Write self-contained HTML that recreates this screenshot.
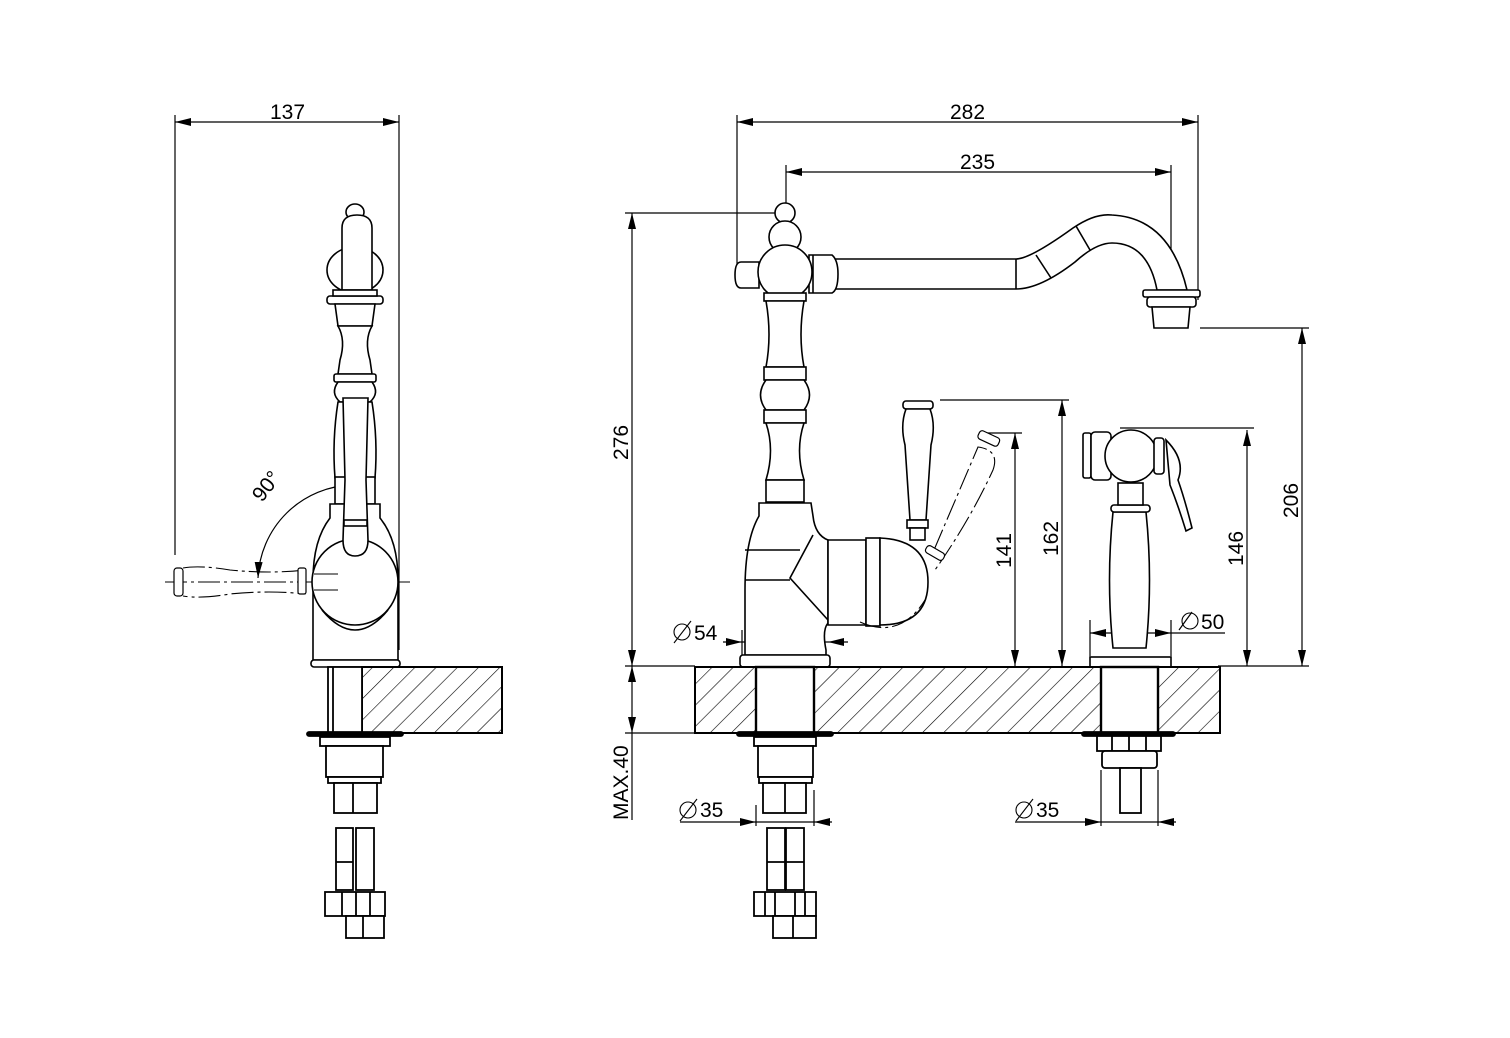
<!DOCTYPE html>
<html><head><meta charset="utf-8"><style>
html,body{margin:0;padding:0;background:#fff;}
svg{display:block;}
text{font-family:"Liberation Sans","DejaVu Sans",sans-serif;font-size:21px;fill:#000;}
</style></head><body>
<svg width="1510" height="1038" viewBox="0 0 1510 1038" xmlns="http://www.w3.org/2000/svg">
<defs>
<pattern id="h" width="15" height="15" patternUnits="userSpaceOnUse" patternTransform="rotate(45)">
<line x1="0" y1="0" x2="0" y2="15" stroke="#000" stroke-width="1.2"/>
</pattern>
<marker id="a" viewBox="0 0 16 8" refX="16" refY="4" markerWidth="16" markerHeight="8" orient="auto-start-reverse" markerUnits="userSpaceOnUse">
<path d="M0,0 L16,4 L0,8 z" fill="#000"/>
</marker>
</defs>

<g fill="none" stroke="#000" stroke-width="1.2">
<line x1="175" y1="122" x2="399" y2="122" marker-start="url(#a)" marker-end="url(#a)"/>
<line x1="175" y1="115" x2="175" y2="555"/>
<line x1="399" y1="115" x2="399" y2="650"/>
<path d="M352,485 A97,97 0 0 0 258,578" marker-start="url(#a)" marker-end="url(#a)"/>
<line x1="165" y1="582" x2="410" y2="582" stroke-dasharray="22,4,3,4" stroke-width="1"/>
<line x1="355" y1="395" x2="355" y2="640" stroke-dasharray="22,4,3,4" stroke-width="1"/>
</g>
<text x="270" y="119">137</text>
<text x="0" y="0" transform="translate(262,503) rotate(-52)">90°</text>

<g fill="#fff" stroke="#000" stroke-width="1.6">
<ellipse cx="355" cy="212" rx="9" ry="8"/>
<ellipse cx="355" cy="270" rx="28" ry="23"/>
<path d="M342,290 L342,228 Q342,215 357,215 Q372,215 372,228 L372,290 Z"/>
<rect x="327" y="296" width="56" height="8" rx="3"/>
<rect x="333" y="290" width="44" height="6"/>
<path d="M335,304 L375,304 L372,326 L338,326 Z"/>
<path d="M338,326 Q346,340 340,360 L338,374 L372,374 L370,360 Q364,340 372,326 Z"/>
<rect x="334" y="374" width="42" height="8" rx="2"/>
<path d="M338,382 Q330,393 340,402 L370,402 Q380,393 372,382 Z"/>
<path d="M338,402 Q332,440 335,478 L375,478 Q378,440 372,402 Z"/>
<rect x="335" y="477" width="40" height="27"/>
<path d="M330,504 L380,504 L380,518 Q398,540 398,580 L398,660 L313,660 L313,580 Q313,540 330,518 Z"/>
<circle cx="355" cy="582" r="43"/>
<path d="M322,610 Q355,650 388,610" fill="none"/>
<path d="M343,398 L368,398 L366,480 L368,540 Q368,556 355,556 Q343,556 343,540 L345,480 Z"/>
<rect x="344" y="520" width="23" height="6"/>
<rect x="311" y="660" width="89" height="7" rx="3"/>
</g>
<g fill="none" stroke="#000" stroke-width="1.1" stroke-dasharray="22,4,3,4">
<path d="M183,568 Q200,565 230,570 Q270,574 305,570 L305,594 Q270,590 230,594 Q200,599 183,596"/>
</g>
<rect x="174" y="568" width="9" height="28" rx="3" fill="#fff" stroke="#000" stroke-width="1.2"/>
<rect x="298" y="568" width="8" height="26" rx="2" fill="#fff" stroke="#000" stroke-width="1.2"/>
<line x1="314" y1="574" x2="338" y2="574" stroke="#000"/><line x1="314" y1="590" x2="338" y2="590" stroke="#000"/>

<rect x="362" y="667" width="140" height="66" fill="url(#h)" stroke="#000" stroke-width="2"/>
<g fill="#fff" stroke="#000" stroke-width="1.8">
<rect x="328" y="667" width="34" height="66"/>
<line x1="333" y1="667" x2="333" y2="733"/>
<rect x="307" y="732" width="96" height="4" rx="2" fill="#000"/>
<rect x="320" y="737" width="70" height="9"/>
<rect x="326" y="746" width="57" height="31"/>
<rect x="328" y="777" width="53" height="6"/>
<rect x="334" y="783" width="43" height="30"/>
<line x1="353" y1="783" x2="353" y2="813"/>
<rect x="336" y="828" width="17" height="62"/>
<rect x="356" y="828" width="18" height="62"/>
<line x1="336" y1="862" x2="353" y2="862"/>
<rect x="325" y="892" width="60" height="24"/>
<line x1="342" y1="892" x2="342" y2="916"/><line x1="356" y1="892" x2="356" y2="916"/><line x1="370" y1="892" x2="370" y2="916"/>
<rect x="346" y="916" width="38" height="22"/>
<line x1="363" y1="916" x2="363" y2="938"/>
</g>

<g fill="none" stroke="#000" stroke-width="1.2">
<line x1="737" y1="122" x2="1198" y2="122" marker-start="url(#a)" marker-end="url(#a)"/>
<line x1="737" y1="115" x2="737" y2="265"/>
<line x1="1198" y1="115" x2="1198" y2="300"/>
<line x1="786" y1="172" x2="1171" y2="172" marker-start="url(#a)" marker-end="url(#a)"/>
<line x1="786" y1="165" x2="786" y2="205"/>
<line x1="1171" y1="165" x2="1171" y2="320"/>
<line x1="632" y1="213" x2="632" y2="666" marker-start="url(#a)" marker-end="url(#a)"/>
<line x1="625" y1="213" x2="775" y2="213"/>
<line x1="632" y1="666" x2="632" y2="733" marker-start="url(#a)" marker-end="url(#a)"/>
<line x1="632" y1="733" x2="632" y2="820"/>
<line x1="625" y1="666" x2="695" y2="666"/>
<line x1="625" y1="733" x2="695" y2="733"/>
<line x1="1015" y1="433" x2="1015" y2="666" marker-start="url(#a)" marker-end="url(#a)"/>
<line x1="980" y1="433" x2="1022" y2="433"/>
<line x1="1062" y1="400" x2="1062" y2="666" marker-start="url(#a)" marker-end="url(#a)"/>
<line x1="940" y1="400" x2="1069" y2="400"/>
<line x1="1247" y1="430" x2="1247" y2="666" marker-start="url(#a)" marker-end="url(#a)"/>
<line x1="1120" y1="428" x2="1254" y2="428"/>
<line x1="1302" y1="328" x2="1302" y2="666" marker-start="url(#a)" marker-end="url(#a)"/>
<line x1="1200" y1="328" x2="1309" y2="328"/>
<line x1="1218" y1="666" x2="1309" y2="666"/>
<line x1="723" y1="642" x2="742" y2="642" marker-end="url(#a)"/>
<line x1="742" y1="642" x2="828" y2="642"/>
<line x1="848" y1="642" x2="828" y2="642" marker-end="url(#a)"/>
<line x1="742" y1="630" x2="742" y2="655"/>
<line x1="1090" y1="633" x2="1171" y2="633" marker-start="url(#a)" marker-end="url(#a)"/>
<line x1="1171" y1="633" x2="1225" y2="633"/>
<line x1="1090" y1="620" x2="1090" y2="656"/>
<line x1="1171" y1="620" x2="1171" y2="656"/>
<line x1="1179" y1="630" x2="1192" y2="612"/>
<line x1="680" y1="822" x2="756" y2="822" marker-end="url(#a)"/>
<line x1="756" y1="822" x2="814" y2="822"/>
<line x1="832" y1="822" x2="814" y2="822" marker-end="url(#a)"/>
<line x1="756" y1="805" x2="756" y2="826"/><line x1="814" y1="790" x2="814" y2="826"/>
<line x1="1015" y1="822" x2="1101" y2="822" marker-end="url(#a)"/>
<line x1="1101" y1="822" x2="1158" y2="822"/>
<line x1="1176" y1="822" x2="1158" y2="822" marker-end="url(#a)"/>
<line x1="1101" y1="770" x2="1101" y2="826"/><line x1="1158" y1="770" x2="1158" y2="826"/>
</g>
<text x="950" y="119">282</text>
<text x="960" y="169">235</text>
<text transform="translate(628,460) rotate(-90)">276</text>
<text transform="translate(628,820) rotate(-90)">MAX.40</text>
<text transform="translate(1011,568) rotate(-90)">141</text>
<text transform="translate(1058,556) rotate(-90)">162</text>
<text transform="translate(1243,566) rotate(-90)">146</text>
<text transform="translate(1298,518) rotate(-90)">206</text>
<text x="694" y="640">54</text>
<text x="1201" y="629">50</text>
<text x="700" y="817">35</text>
<text x="1036" y="817">35</text>
<g fill="none" stroke="#000" stroke-width="1.1">
<circle cx="682" cy="632" r="8"/><line x1="674" y1="643" x2="691" y2="621"/>
<circle cx="1190" cy="621" r="8"/>
<circle cx="688" cy="810" r="8"/><line x1="680" y1="821" x2="697" y2="799"/>
<circle cx="1024" cy="810" r="8"/><line x1="1016" y1="821" x2="1033" y2="799"/>
</g>

<g fill="#fff" stroke="#000" stroke-width="1.6">
<path d="M835,259 L1016,259 Q1030,259 1073,228 Q1095,213 1112,215 Q1170,218 1187,290 L1157,290 Q1148,243 1112,243 Q1096,243 1075,262 Q1040,289 1016,289 L835,289 Z"/>
<line x1="1016" y1="259" x2="1016" y2="289"/>
<line x1="1036" y1="255" x2="1051" y2="278"/>
<line x1="1076" y1="226" x2="1090" y2="250"/>
<rect x="1143" y="290" width="57" height="7" rx="2"/>
<rect x="1147" y="297" width="49" height="10" rx="3"/>
<path d="M1152,307 L1190,307 L1188,328 L1154,328 Z"/>
<circle cx="785" cy="213" r="10"/>
<circle cx="785" cy="237" r="16"/>
<path d="M741,262 Q735,262 735,275 Q735,288 741,288 L759,288 L759,262 Z"/>
<path d="M809,255 L832,255 Q838,260 838,274 Q838,290 832,293 L809,293 Z"/>
<line x1="813" y1="255" x2="813" y2="293"/>
<circle cx="785" cy="272" r="27"/>
<rect x="764" y="293" width="42" height="8"/>
<path d="M766,301 L804,301 Q798,335 804,367 L766,367 Q772,335 766,301 Z"/>
<rect x="764" y="367" width="42" height="13"/>
<path d="M766,380 Q755,395 766,410 L804,410 Q815,395 804,380 Z"/>
<rect x="764" y="410" width="42" height="13"/>
<path d="M766,423 Q775,450 766,480 L804,480 Q795,450 804,423 Z"/>
<rect x="766" y="480" width="38" height="22"/>
<path d="M759,503 L811,503 L813,516 Q815,535 828,540 L828,623 Q822,630 826,650 L826,655 L745,655 L745,590 Q745,540 759,516 Z"/>
<line x1="745" y1="550" x2="800" y2="550"/>
<line x1="745" y1="580" x2="790" y2="580"/>
<path d="M813,535 L790,578 L828,620" fill="none"/>
<path d="M828,540 L866,540 L866,625 L828,625 Z"/>
<rect x="866" y="538" width="14" height="88"/>
<path d="M880,538 Q928,540 928,582 Q928,625 880,625 Z"/>
<rect x="740" y="655" width="90" height="12" rx="3"/>
<rect x="903" y="401" width="30" height="8" rx="3"/>
<path d="M906,409 Q900,425 905,445 L910,520 L926,520 L931,445 Q936,425 930,409 Z"/>
<rect x="907" y="520" width="21" height="8"/>
<rect x="910" y="528" width="15" height="12"/>
<rect x="1090" y="657" width="81" height="10"/>
<path d="M1113,512 Q1106,580 1113,648 L1146,648 Q1153,580 1146,512 Z"/>
<rect x="1111" y="505" width="39" height="7" rx="3"/>
<rect x="1118" y="483" width="25" height="22"/>
<path d="M1166,440 Q1186,460 1178,480 Q1185,500 1192,528 L1186,531 Q1178,505 1170,485 Z"/>
<rect x="1083" y="433" width="8" height="45" rx="2"/>
<rect x="1091" y="432" width="20" height="48" rx="4"/>
<circle cx="1131" cy="456" r="26"/>
<rect x="1154" y="438" width="10" height="36" rx="3"/>
</g>
<g fill="none" stroke="#000" stroke-width="1.1" stroke-dasharray="22,4,3,4">
<path d="M934,550 L978,447 Q1000,450 993,470 Q970,520 935,570"/>
<path d="M860,622 Q900,640 925,600"/>
</g>
<rect x="978" y="434" width="22" height="9" rx="3" transform="rotate(25 989 438)" fill="#fff" stroke="#000" stroke-width="1.2"/>
<rect x="925" y="549" width="20" height="8" rx="3" transform="rotate(30 935 553)" fill="#fff" stroke="#000" stroke-width="1.2"/>

<rect x="695" y="667" width="525" height="66" fill="url(#h)" stroke="#000" stroke-width="2"/>
<g fill="#fff" stroke="#000" stroke-width="1.8">
<rect x="756" y="667" width="58" height="66" stroke-width="2.4"/>
<rect x="1101" y="667" width="57" height="66" stroke-width="2.4"/>
<rect x="737" y="732" width="96" height="4" rx="2" fill="#000"/>
<rect x="1082" y="732" width="93" height="4" rx="2" fill="#000"/>
<rect x="754" y="737" width="62" height="9"/>
<rect x="758" y="746" width="55" height="31"/>
<rect x="759" y="777" width="53" height="6"/>
<rect x="763" y="783" width="43" height="30"/>
<line x1="785" y1="783" x2="785" y2="813"/>
<rect x="767" y="828" width="18" height="62"/>
<rect x="786" y="828" width="18" height="62"/>
<line x1="767" y1="862" x2="804" y2="862"/>
<rect x="754" y="892" width="62" height="24"/>
<line x1="765" y1="892" x2="765" y2="916"/><line x1="775" y1="892" x2="775" y2="916"/><line x1="795" y1="892" x2="795" y2="916"/><line x1="805" y1="892" x2="805" y2="916"/>
<rect x="773" y="916" width="43" height="22"/>
<line x1="793" y1="916" x2="793" y2="938"/>
<rect x="1097" y="736" width="64" height="15"/>
<line x1="1112" y1="736" x2="1112" y2="751"/><line x1="1129" y1="736" x2="1129" y2="751"/><line x1="1146" y1="736" x2="1146" y2="751"/>
<rect x="1102" y="751" width="55" height="17" rx="3"/>
<rect x="1120" y="768" width="21" height="45"/>
</g>
</svg>
</body></html>
